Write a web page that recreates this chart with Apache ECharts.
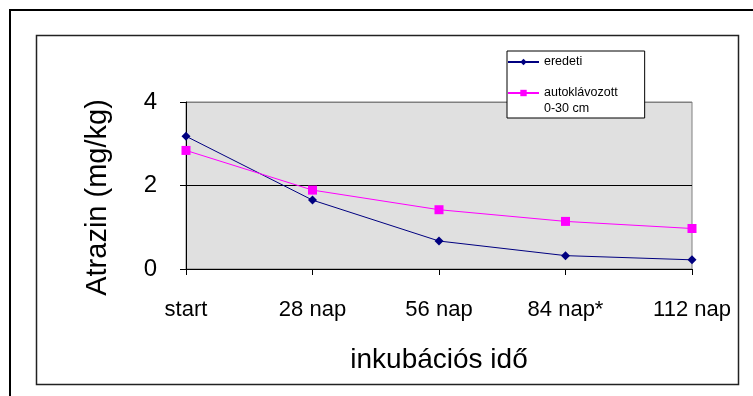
<!DOCTYPE html>
<html>
<head>
<meta charset="utf-8">
<script src="https://cdn.jsdelivr.net/npm/echarts@6/dist/echarts.min.js"></script>
<style>
  html, body { margin: 0; padding: 0; background: #fff; }
  #chart { width: 753px; height: 396px; }
</style>
</head>
<body>
<div id="chart"></div>
<script>
const categories = ['start', '28 nap', '56 nap', '84 nap*', '112 nap'];
const eredeti = [3.18, 1.65, 0.67, 0.32, 0.22];
const autoklavozott = [2.84, 1.89, 1.42, 1.14, 0.97];
const yTicks = [0, 2, 4];

const font = 'Liberation Sans, Arial, sans-serif';
const chart = echarts.init(document.getElementById('chart'));

chart.setOption({
  animation: false,
  textStyle: { fontFamily: font },
  graphic: [
    // outer frame, runs off the right and bottom edge
    { type: 'rect', shape: { x: 10, y: 10, width: 800, height: 450 },
      style: { fill: 'none', stroke: '#000', lineWidth: 2 }, z: 100 },
    // inner chart frame
    { type: 'rect', shape: { x: 36.5, y: 35.5, width: 702, height: 349 },
      style: { fill: 'none', stroke: '#222', lineWidth: 1.5 }, z: 100 }
  ],
  grid: {
    left: 186, right: 61, top: 102, bottom: 127,
    show: true,
    backgroundColor: '#e0e0e0',
    borderColor: '#808080',
    borderWidth: 1
  },
  legend: {
    orient: 'vertical',
    left: 507,
    top: 51,
    padding: [3, 27, 1, 0],
    itemGap: -1,
    itemWidth: 31,
    itemHeight: 8,
    backgroundColor: '#fff',
    borderColor: '#000',
    borderWidth: 1,
    borderRadius: 0,
    textStyle: { fontFamily: font, fontSize: 12.5, color: '#000', lineHeight: 16 },
    data: ['eredeti', 'autoklávozott 0-30 cm'],
    // leading empty line keeps the marker level with the first text line
    formatter: name => name === 'eredeti' ? name : '\nautoklávozott\n0-30 cm'
  },
  xAxis: {
    type: 'category',
    data: categories,
    boundaryGap: false,
    name: 'inkubációs idő',
    nameLocation: 'middle',
    nameGap: 77,
    nameTextStyle: { fontFamily: font, fontSize: 28, color: '#000' },
    axisLine: { lineStyle: { color: '#000', width: 1 } },
    axisTick: { show: true, inside: false, length: 6, lineStyle: { color: '#000' } },
    axisLabel: { fontFamily: font, fontSize: 22, color: '#000', margin: 30 },
    splitLine: { show: false }
  },
  yAxis: {
    type: 'value',
    min: yTicks[0],
    max: yTicks[yTicks.length - 1],
    interval: yTicks[1] - yTicks[0],
    name: 'Atrazin (mg/kg)',
    nameLocation: 'middle',
    nameGap: 74,
    nameTextStyle: { fontFamily: font, fontSize: 29, color: '#000', padding: [0, 24, 0, 0] },
    axisLine: { show: true, lineStyle: { color: '#000', width: 1 } },
    axisTick: { show: true, inside: false, length: 6, lineStyle: { color: '#000' } },
    axisLabel: { fontFamily: font, fontSize: 24, color: '#000', margin: 29 },
    splitLine: { show: true, lineStyle: { color: ['#808080', '#000', '#808080'], width: 1 } }
  },
  series: [
    {
      name: 'eredeti',
      type: 'line',
      data: eredeti,
      symbol: 'diamond',
      symbolSize: 9,
      itemStyle: { color: '#000080' },
      lineStyle: { color: '#000080', width: 1 }
    },
    {
      name: 'autoklávozott 0-30 cm',
      type: 'line',
      data: autoklavozott,
      symbol: 'rect',
      symbolSize: 9,
      itemStyle: { color: '#ff00ff' },
      lineStyle: { color: '#ff00ff', width: 1 }
    }
  ]
});
</script>
</body>
</html>
